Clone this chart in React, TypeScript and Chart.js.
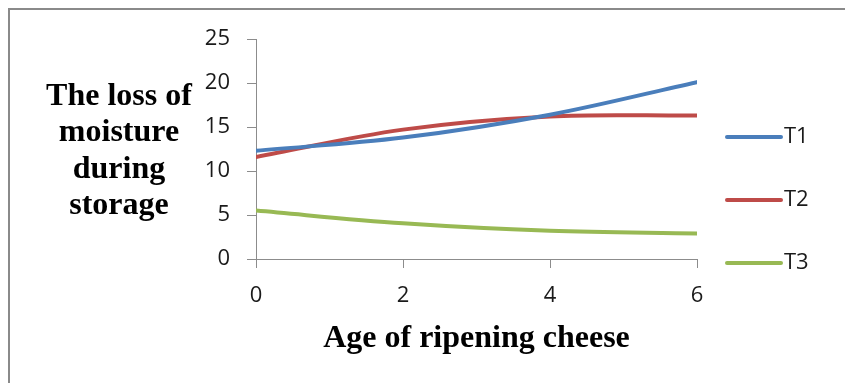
import React, { useEffect, useRef } from "react";
import { Chart, registerables } from "chart.js";

Chart.register(...registerables);

// Age of ripening cheese (x) and moisture loss per treatment
const ages = [0, 2, 4, 6];
const t1 = [12.3, 13.8, 16.4, 20.1];
const t2 = [11.6, 14.7, 16.2, 16.3];
const t3 = [5.5, 4.05, 3.2, 2.9];

const seriesNames = ["T1", "T2", "T3"];
const seriesColors = ["#4A7EBB", "#BE4B48", "#98B954"];
const yTicks = [0, 5, 10, 15, 20, 25];
const xTicks = [0, 2, 4, 6];

const yTitleLines = ["The loss of", "moisture", "during", "storage"];
const xTitle = "Age of ripening cheese";

const TICK_FONT = { family: "'Open Sans', sans-serif", size: 22 };
const TITLE_FONT = "bold 32px 'Liberation Serif', 'Times New Roman', serif";

const decorations = {
  id: "decorations",
  afterDraw(chart: any) {
    const { ctx, chartArea } = chart;
    ctx.save();

    // outer frame (left and top edges)
    ctx.strokeStyle = "#8a8a8a";
    ctx.lineWidth = 2;
    ctx.beginPath();
    ctx.moveTo(9, chart.height);
    ctx.lineTo(9, 9);
    ctx.lineTo(chart.width, 9);
    ctx.stroke();

    // axis titles
    ctx.font = TITLE_FONT;
    ctx.fillStyle = "#000";
    ctx.textAlign = "center";
    ctx.textBaseline = "alphabetic";
    yTitleLines.forEach((line, i) => ctx.fillText(line, 119, 105 + i * 36.3));
    ctx.fillText(xTitle, (chartArea.left + chartArea.right) / 2, 347);

    // legend
    const lx = chartArea.right + 30;
    const legendY = [137, 200, 263];
    chart.data.datasets.forEach((ds: any, i: number) => {
      const y = legendY[i];
      ctx.strokeStyle = ds.borderColor;
      ctx.lineWidth = 4;
      ctx.lineCap = "round";
      ctx.beginPath();
      ctx.moveTo(lx, y);
      ctx.lineTo(lx + 54, y);
      ctx.stroke();
      ctx.font = `${TICK_FONT.size}px ${TICK_FONT.family}`;
      ctx.fillStyle = "#1a1a1a";
      ctx.textAlign = "left";
      ctx.textBaseline = "middle";
      ctx.fillText(ds.label, lx + 57, y);
    });

    ctx.restore();
  },
};

export default function App() {
  const canvasRef = useRef<HTMLCanvasElement | null>(null);

  useEffect(() => {
    if (!canvasRef.current) return;
    const series = [t1, t2, t3];
    const chart = new Chart(canvasRef.current, {
      type: "line",
      data: {
        datasets: series.map((vals, i) => ({
          label: seriesNames[i],
          data: ages.map((x, j) => ({ x, y: vals[j] })),
          borderColor: seriesColors[i],
          backgroundColor: seriesColors[i],
          borderWidth: 4,
          pointRadius: 0,
          tension: 0.35,
          fill: false,
          borderCapStyle: "round",
        })),
      },
      options: {
        responsive: false,
        animation: false,
        layout: { padding: { left: 0, top: 39, right: 148, bottom: 0 } },
        plugins: {
          legend: { display: false },
          tooltip: { enabled: false },
        },
        scales: {
          x: {
            type: "linear",
            min: 0,
            max: 6,
            afterBuildTicks: (scale: any) => {
              scale.ticks = xTicks.map((v) => ({ value: v }));
            },
            afterFit: (scale: any) => {
              scale.height = 124;
            },
            ticks: { font: TICK_FONT, color: "#1a1a1a", padding: 15 },
            grid: {
              display: true,
              drawOnChartArea: false,
              drawTicks: true,
              tickLength: 9,
              color: "#8c8c8c",
              lineWidth: 1,
            },
            border: { display: true, color: "#8c8c8c", width: 1 },
          },
          y: {
            min: 0,
            max: 25,
            afterBuildTicks: (scale: any) => {
              scale.ticks = yTicks.map((v) => ({ value: v }));
            },
            afterFit: (scale: any) => {
              scale.width = 256;
            },
            ticks: { font: TICK_FONT, color: "#1a1a1a", padding: 17 },
            grid: {
              display: true,
              drawOnChartArea: false,
              drawTicks: true,
              tickLength: 9,
              color: "#8c8c8c",
              lineWidth: 1,
            },
            border: { display: true, color: "#8c8c8c", width: 1 },
          },
        },
      },
      plugins: [decorations],
    });
    return () => chart.destroy();
  }, []);

  return (
    <div style={{ position: "fixed", left: 0, top: 0, width: 845, height: 383, background: "#fff" }}>
      <canvas ref={canvasRef} width={845} height={383} />
    </div>
  );
}
